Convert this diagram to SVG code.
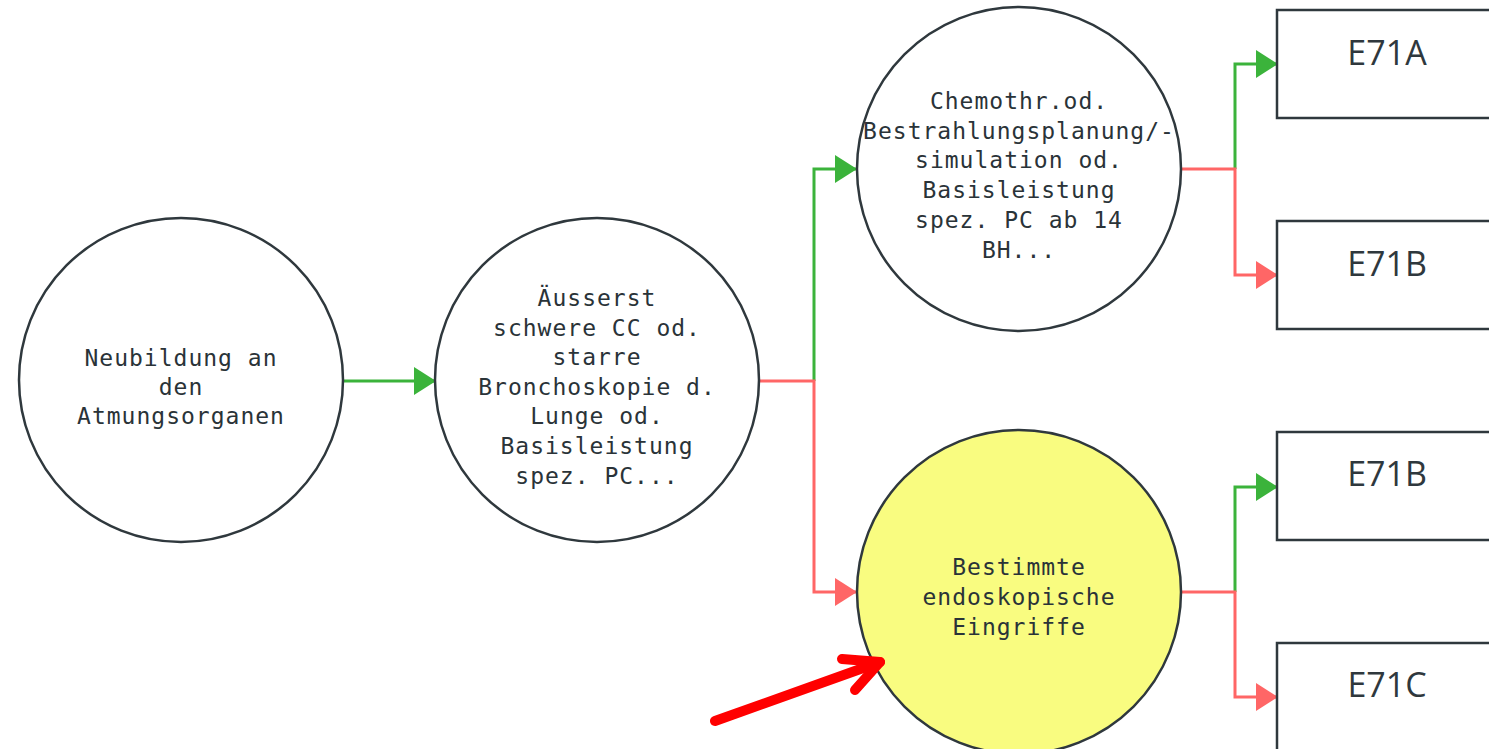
<svg xmlns="http://www.w3.org/2000/svg" width="1489" height="749" viewBox="0 0 1489 749">
  <style>
    .node { fill: #ffffff; stroke: #2f383d; stroke-width: 2.5; }
    .hl { fill: #f9fc80; }
    .lbl { font-family: "DejaVu Sans Mono", "Liberation Mono", monospace; font-size: 23px; letter-spacing: 1px; fill: #2a3338; text-anchor: middle; }
    .code { font-family: "Open Sans", "Noto Sans", sans-serif; font-size: 34px; fill: #2f383d; text-anchor: middle; }
    .yes { fill: none; stroke: #3bb33b; stroke-width: 3; }
    .no { fill: none; stroke: #ff6666; stroke-width: 3; }
  </style>
  <defs>
    <marker id="arrow-yes" markerUnits="userSpaceOnUse" markerWidth="23" markerHeight="28" refX="22" refY="14" orient="auto">
      <path d="M0,0 L22,14 L0,28 z" fill="#3bb33b"/>
    </marker>
    <marker id="arrow-no" markerUnits="userSpaceOnUse" markerWidth="23" markerHeight="28" refX="22" refY="14" orient="auto">
      <path d="M0,0 L22,14 L0,28 z" fill="#ff6666"/>
    </marker>
  </defs>
  <rect width="1489" height="749" fill="#ffffff"/>

  <g id="connectors">
    <path class="yes" d="M343,381 H436" marker-end="url(#arrow-yes)"/>
    <path class="yes" d="M814,381 V169 H857" marker-end="url(#arrow-yes)"/>
    <path class="no" d="M760,381 H814 V592 H857" marker-end="url(#arrow-no)"/>
    <path class="yes" d="M1235,169 V64 H1278" marker-end="url(#arrow-yes)"/>
    <path class="no" d="M1182,169 H1235 V275 H1278" marker-end="url(#arrow-no)"/>
    <path class="yes" d="M1235,592 V487 H1278" marker-end="url(#arrow-yes)"/>
    <path class="no" d="M1182,592 H1235 V697 H1278" marker-end="url(#arrow-no)"/>
  </g>

  <g id="n1">
    <circle class="node" cx="181" cy="380" r="162"/>
    <text class="lbl"><tspan x="181" y="366">Neubildung an</tspan><tspan x="181" y="395">den</tspan><tspan x="181" y="424">Atmungsorganen</tspan></text>
  </g>

  <g id="n2">
    <circle class="node" cx="597" cy="380" r="162"/>
    <text class="lbl"><tspan x="597" y="306">Äusserst</tspan><tspan x="597" y="336">schwere CC od.</tspan><tspan x="597" y="365">starre</tspan><tspan x="597" y="395">Bronchoskopie d.</tspan><tspan x="597" y="424">Lunge od.</tspan><tspan x="597" y="454">Basisleistung</tspan><tspan x="597" y="484">spez. PC...</tspan></text>
  </g>

  <g id="n3">
    <circle class="node" cx="1019" cy="169" r="162"/>
    <text class="lbl"><tspan x="1019" y="109">Chemothr.od.</tspan><tspan x="1019" y="139">Bestrahlungsplanung/-</tspan><tspan x="1019" y="168">simulation od.</tspan><tspan x="1019" y="198">Basisleistung</tspan><tspan x="1019" y="228">spez. PC ab 14</tspan><tspan x="1019" y="258">BH...</tspan></text>
  </g>

  <g id="n4">
    <circle class="node hl" cx="1019" cy="592" r="162"/>
    <text class="lbl"><tspan x="1019" y="575">Bestimmte</tspan><tspan x="1019" y="605">endoskopische</tspan><tspan x="1019" y="635">Eingriffe</tspan></text>
  </g>

  <g id="e71a">
    <rect class="node" x="1277" y="10" width="222" height="108"/>
    <text class="code" x="1387" y="65">E71A</text>
  </g>
  <g id="e71b-1">
    <rect class="node" x="1277" y="221" width="222" height="108"/>
    <text class="code" x="1387" y="276">E71B</text>
  </g>
  <g id="e71b-2">
    <rect class="node" x="1277" y="432" width="222" height="108"/>
    <text class="code" x="1387" y="486">E71B</text>
  </g>
  <g id="e71c">
    <rect class="node" x="1277" y="643" width="222" height="108"/>
    <text class="code" x="1387" y="697">E71C</text>
  </g>

  <!-- pointer marking the highlighted node -->
  <g id="pointer" fill="none" stroke="#ff0000" stroke-width="10" stroke-linecap="round" stroke-linejoin="round">
    <path d="M715,721 L880,662"/>
    <path d="M842,659 L880,662 L855,690"/>
  </g>
</svg>
